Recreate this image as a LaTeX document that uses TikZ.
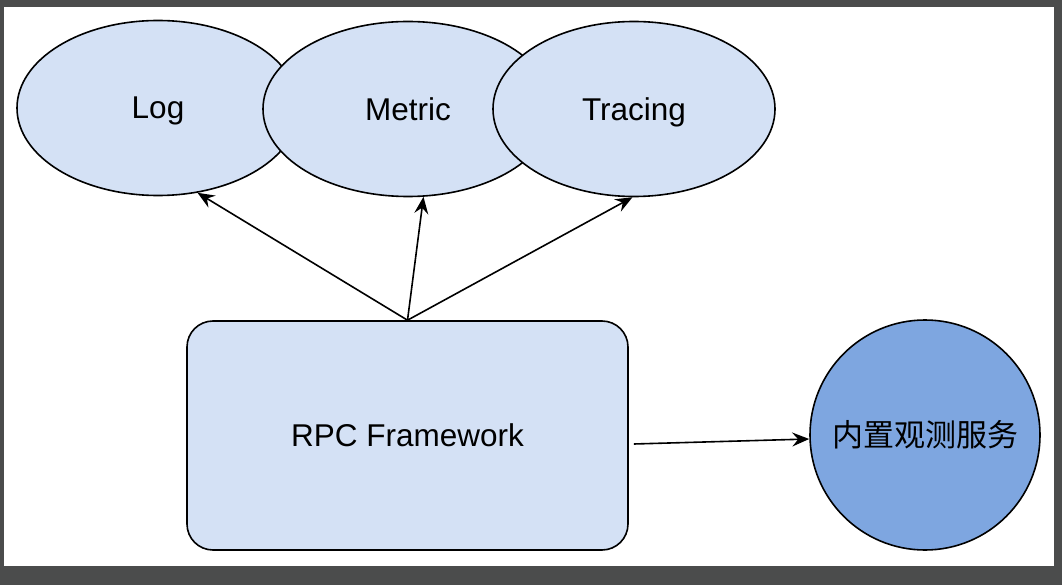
\documentclass[tikz,border=0pt]{standalone}
\usepackage{fontspec}
\setmainfont{Liberation Sans}
\newfontfamily\cjk{Noto Sans CJK SC}
\usetikzlibrary{shapes.geometric,arrows.meta}
\definecolor{frame}{HTML}{4B4C4C}
\definecolor{lightblue}{HTML}{D4E1F5}
\definecolor{midblue}{HTML}{7EA6E0}
\tikzset{
  oval/.style={ellipse, draw=black, line width=1.6pt, fill=lightblue, minimum width=282pt, minimum height=175pt, inner sep=0pt, text depth=0pt, font=\fontsize{31.5}{36}\selectfont},
  rbox/.style={rectangle, rounded corners=26pt, draw=black, line width=1.6pt, fill=lightblue, minimum width=441pt, minimum height=229pt, inner sep=0pt, text depth=0pt, font=\fontsize{31.5}{36}\selectfont},
  svcnode/.style={circle, draw=black, line width=1.6pt, fill=midblue, minimum size=230pt, inner sep=0pt, font=\cjk\fontsize{31}{36}\selectfont},
  arr/.style={draw=black, line width=1.6pt, -{Stealth[length=17pt, width=14pt, inset=6pt]}}
}
\begin{document}
\begin{tikzpicture}[x=1pt, y=-1pt]
  \fill[frame] (0,0) rectangle (1062,585);
  \fill[white] (4,7) rectangle (1054,566);
  \useasboundingbox (0,0) rectangle (1062,585);
  \node[oval] (log) at (158,108) {Log};
  \node[oval, minimum width=290pt] (metric) at (408,109) {Metric};
  \node[oval] (tracing) at (634,109) {Tracing};
  \node[rbox] (rpc) at (407.5,435.5) {RPC Framework};
  \node[svcnode] (svc) at (925,435) {内置观测服务};
  \draw[arr] (rpc.north) -- (log.-65);
  \draw[arr] (rpc.north) -- (metric.-80);
  \draw[arr] (rpc.north) -- (tracing.-91);
  \draw[arr] ([xshift=5pt,yshift=-8.5pt]rpc.east) -- ([yshift=-4pt]svc.west);
\end{tikzpicture}
\end{document}
